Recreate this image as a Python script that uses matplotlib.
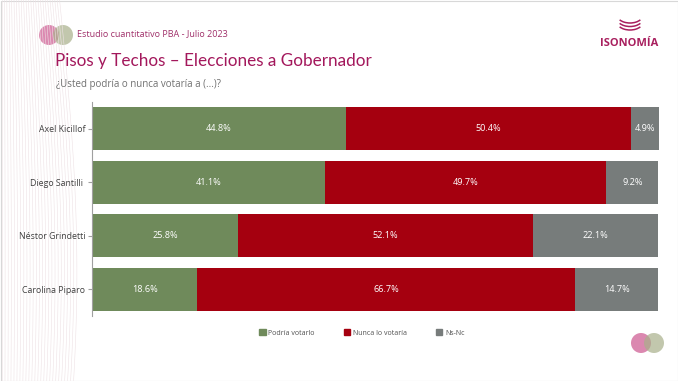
import matplotlib
matplotlib.use("Agg")
import matplotlib.pyplot as plt
from matplotlib.patches import Circle, Arc, Rectangle
import numpy as np

candidates = ["Axel Kicillof", "Diego Santilli ", "Néstor Grindetti", "Carolina Piparo"]
podria = [44.8, 41.1, 25.8, 18.6]
nunca = [50.4, 49.7, 52.1, 66.7]
nsnc = [4.9, 9.2, 22.1, 14.7]
series_names = ["Podría votarlo", "Nunca lo votaría", "Ns-Nc"]
colors = ["#6f8a5b", "#a5000f", "#777c7b"]

plt.rcParams['font.family'] = ['Open Sans', 'DejaVu Sans']

fig = plt.figure(figsize=(6.78, 3.81), dpi=100)
fig.patch.set_facecolor("white")

ax = fig.add_axes([92/678, 1-316/381, (659-92)/678, (316-102)/381])
y = np.arange(len(candidates))
left = np.zeros(len(candidates))
for vals, name, col in zip([podria, nunca, nsnc], series_names, colors):
    bars = ax.barh(y, vals, left=left, height=0.81, color=col, label=name)
    for yi, (l, v) in enumerate(zip(left, vals)):
        ax.text(l + v/2, yi, f"{v:.1f}%", ha="center", va="center",
                color="white", fontsize=6.6)
    left = left + np.array(vals)

ax.set_xlim(0, 100.1)
ax.set_ylim(3.5, -0.5)
ax.set_yticks(y)
ax.set_yticklabels(candidates, fontsize=6.3, color="#404040")
ax.tick_params(axis='y', length=3, color="#a0a0a0", pad=2)
ax.set_xticks([])
for s in ["top", "right", "bottom"]:
    ax.spines[s].set_visible(False)
ax.spines["left"].set_color("#a0a0a0")
ax.spines["left"].set_linewidth(0.8)

# legend
handles = [Rectangle((0, 0), 1, 1, color=c) for c in colors]
fig.legend(handles, series_names, loc="center", bbox_to_anchor=(362/678, 1-333/381),
           ncol=3, frameon=False, fontsize=5, labelcolor="#505050",
           handlelength=0.9, handleheight=0.9, columnspacing=4.2, handletextpad=0.4)

# titles
fig.text(77/678, 1-34/381, "Estudio cuantitativo PBA - Julio 2023", fontsize=6.5,
         color="#a0306a", va="center", ha="left")
fig.text(55/678, 1-61/381, "Pisos y Techos – Elecciones a Gobernador", fontsize=12.3,
         color="#a3185c", va="center", ha="left", family=["Lato", "DejaVu Sans"])
fig.text(56/678, 1-84/381, "¿Usted podría o nunca votaría a (...)?", fontsize=7,
         color="#707070", va="center", ha="left")

# logo text
fig.text(629/678, 1-44/381, "ISONOMÍA", fontsize=8, fontweight="bold",
         color="#a81f5e", va="center", ha="center")

# overlay axes for decorations (pixel coords)
deco = fig.add_axes([0, 0, 1, 1], zorder=-1)
deco.set_xlim(0, 678)
deco.set_ylim(381, 0)
deco.axis("off")
# circles top-left
deco.add_patch(Circle((49, 35), 10, color="#d36b9c", alpha=0.8, lw=0))
deco.add_patch(Circle((63, 35), 10, color="#a8b08a", alpha=0.7, lw=0))
# circles bottom-right
deco.add_patch(Circle((641, 343), 10, color="#d36b9c", alpha=0.8, lw=0))
deco.add_patch(Circle((654, 343), 10, color="#a8b08a", alpha=0.7, lw=0))
# logo arcs (bowl shape)
for i, cy in enumerate([15, 18.5, 22]):
    deco.add_patch(Arc((630, cy), 26, 16, theta1=25, theta2=155,
                       color="#a81f5e", lw=1.1))
# faint left swirls
for k in range(25):
    t = np.linspace(0, 1, 60)
    cx = 2 + k*2.4
    deco.plot(cx + 18*np.sin(t*2.2) * (k/25), t*381, color="#eee2e5", lw=0.4)
# border
deco.add_patch(Rectangle((0.5, 0.5), 677, 380, fill=False, ec="#d8d8d8", lw=0.8))

fig.savefig("out.png", dpi=100, facecolor="white")
